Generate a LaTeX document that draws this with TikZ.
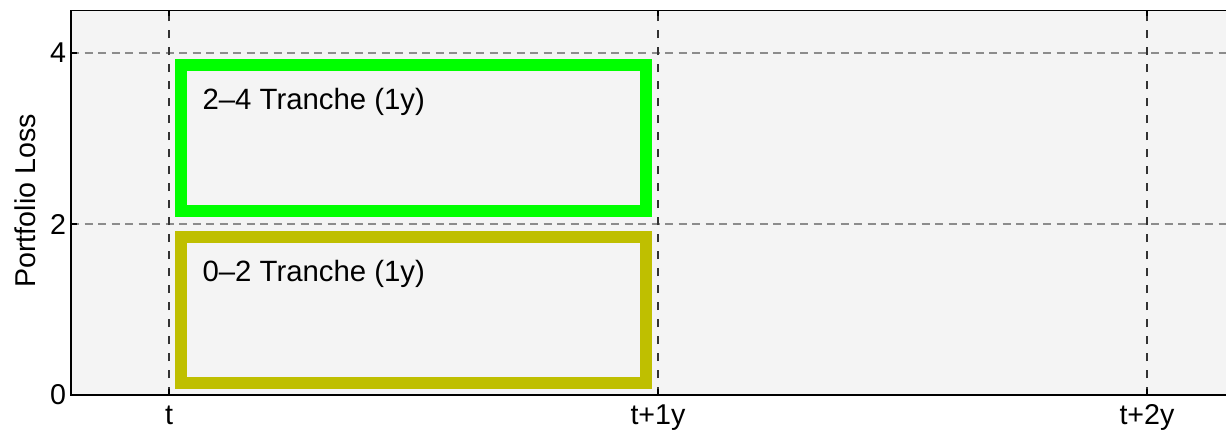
\documentclass[tikz,border=0pt]{standalone}
\usepackage{fontspec}
\setmainfont{Liberation Sans}
\definecolor{plotbg}{HTML}{F4F4F4}
\definecolor{trgreen}{HTML}{00FF00}
\definecolor{tryellow}{HTML}{BFBF00}
\begin{document}
\begin{tikzpicture}[x=9.78cm, y=1.71cm,
  hgrid/.style={draw=gray!90, line width=0.03cm, dash pattern=on 0.16cm off 0.11cm},
  vgrid/.style={draw=black!80, line width=0.025cm, dash pattern=on 0.16cm off 0.18cm},
  axisline/.style={draw=black, line width=0.03cm},
  tranche/.style={line width=0.24cm},
  lbl/.style={font=\fontsize{16.7}{19}\selectfont, inner sep=0pt},
  ticklbl/.style={font=\fontsize{16.3}{19}\selectfont, inner sep=0pt},
]
\useasboundingbox (-0.3456,-0.456) rectangle (2.1616,4.62);
% --- plot area ---
\fill[plotbg] (-0.2,0) rectangle (2.1616,4.5);
\foreach \yy in {2,4}
  \draw[hgrid] (-0.2,\yy) -- (2.1616,\yy);
\foreach \xx in {0,1,2}
  \draw[vgrid] (\xx,0) -- (\xx,4.5);
\draw[axisline] (2.1616,4.5) -- (-0.2,4.5) -- (-0.2,0) -- (2.1616,0);
% ticks
\foreach \xx in {0,1,2} {
  \draw[axisline] (\xx,0) -- (\xx,0.07);
  \draw[axisline] (\xx,4.5) -- (\xx,4.43);
}
\foreach \yy in {0,2,4}
  \draw[axisline] (-0.2,\yy) -- (-0.188,\yy);

% --- tranches ---
\draw[tranche, draw=trgreen] (0.025,2.15) rectangle (0.975,3.86);
\draw[tranche, draw=tryellow] (0.025,0.14) rectangle (0.975,1.85);
\node[lbl, anchor=base west] (hilbl) at (0.068,3.34) {2–4 Tranche (1y)};
\node[lbl, anchor=base west] (lolbl) at (0.068,1.33) {0–2 Tranche (1y)};

% --- axis labels ---
\node[ticklbl, anchor=east] (y0) at (-0.21,0) {0};
\node[ticklbl, anchor=east] (y2) at (-0.21,2) {2};
\node[ticklbl, anchor=east] (y4) at (-0.21,4) {4};
\node[ticklbl, anchor=base] (x0) at (0,-0.34) {t};
\node[ticklbl, anchor=base] (x1) at (1,-0.34) {t+1y};
\node[ticklbl, anchor=base] (x2) at (2,-0.34) {t+2y};
\node[ticklbl, anchor=base, rotate=90] (ylbl) at (-0.272,2.27) {Portfolio Loss};
\end{tikzpicture}
\end{document}
